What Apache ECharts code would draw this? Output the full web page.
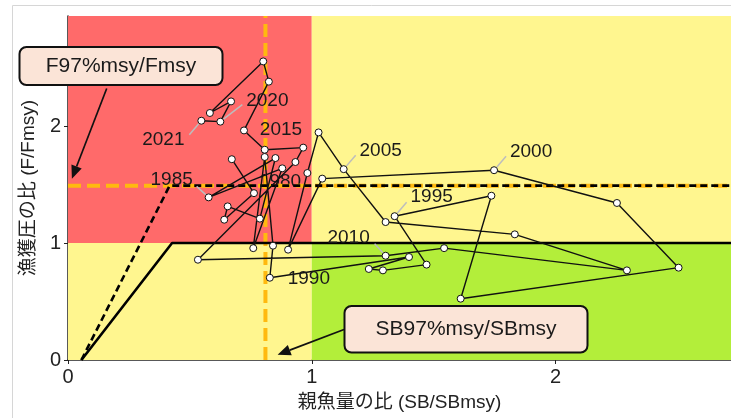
<!DOCTYPE html>
<html>
<head>
<meta charset="utf-8">
<script src="https://cdn.jsdelivr.net/npm/echarts@6.0.0/dist/echarts.min.js"></script>
<style>
  html, body { margin: 0; padding: 0; background: #fff; }
  #kobe { width: 731px; height: 418px; }
</style>
</head>
<body>
<div id="kobe"></div>
<script>
// 年
const years = [1979, 1980, 1981, 1982, 1983, 1984, 1985, 1986, 1987, 1988, 1989,
  1990, 1991, 1992, 1993, 1994, 1995, 1996, 1997, 1998, 1999,
  2000, 2001, 2002, 2003, 2004, 2005, 2006, 2007, 2008, 2009,
  2010, 2011, 2012, 2013, 2014, 2015, 2016, 2017, 2018, 2019, 2020, 2021];
// 親魚量の比 (SB/SBmsy)
const sbRatio = [0.672, 0.763, 0.641, 0.655, 0.787, 0.851, 0.577, 0.879, 0.760, 0.807, 0.841,
  0.828, 1.399, 1.234, 1.292, 1.471, 1.340, 1.737, 1.611, 2.505, 2.252,
  1.748, 1.043, 0.903, 0.982, 1.028, 1.131, 1.303, 1.833, 2.293, 1.543,
  1.303, 0.533, 0.933, 0.965, 0.807, 0.722, 0.824, 0.801, 0.582, 0.669, 0.625, 0.547];
// 漁獲圧の比 (F/Fmsy)
const fRatio = [1.716, 1.426, 1.199, 1.313, 1.208, 1.726, 1.390, 1.638, 0.956, 1.735, 0.977,
  0.703, 0.880, 0.778, 0.766, 0.815, 1.229, 1.404, 0.524, 0.789, 1.342,
  1.622, 1.550, 0.943, 1.598, 1.945, 1.631, 1.179, 1.074, 0.766, 0.956,
  0.891, 0.857, 1.692, 1.815, 1.797, 1.962, 2.379, 2.552, 2.111, 2.210, 2.037, 2.045];
// ラベルを付ける年
const labelYears = [1985, 1990, 1995, 2000, 2005, 2010, 2015, 2020, 2021];
const hiddenLabelYears = [1980];

// 管理基準値の比
const sbLimit = 0.81;   // SB97%msy/SBmsy
const fLimit = 1.49;    // F97%msy/Fmsy
const xMax = 2.72;
const yMax = 2.94;
const hcrSolid = [[0.055, 0], [0.427, 1], [xMax, 1]];
const hcrDashed = [[0.055, 0], [0.417, fLimit], [xMax, fLimit]];
const xTicks = [0, 1, 2];
const yTicks = [0, 1, 2];
// 注記の矢印の先
const fArrowTip = [0.016, 1.55];
const sbArrowTip = [0.86, 0.045];

const FONT = '"Liberation Sans", "Noto Sans CJK JP", sans-serif';

// ラベルの位置 (px)
const labelPos = {
  1980: { dx: 26, dy: -11 },
  1985: { dx: -37, dy: -18, lead: [-12, -11] },
  1990: { dx: 39, dy: 1 },
  1995: { dx: 37, dy: -19, lead: [12, -14] },
  2000: { dx: 37, dy: -18, lead: [12, -14] },
  2005: { dx: 37, dy: -18, lead: [12, -14] },
  2010: { dx: -37, dy: -18, lead: [-11, -12] },
  2015: { dx: 37, dy: -1 },
  2020: { dx: 47, dy: -21, lead: [22, -17] },
  2021: { dx: -38, dy: 19, lead: [-12, 14] }
};

const chart = echarts.init(document.getElementById('kobe'));

function labelData(list) {
  return list.map(function (y) {
    const i = years.indexOf(y);
    return [sbRatio[i], fRatio[i], y];
  });
}

function renderLabel(params, api) {
  const yr = api.value(2);
  const p = api.coord([api.value(0), api.value(1)]);
  const cfg = labelPos[yr];
  const children = [];
  if (cfg.lead) {
    const len = Math.hypot(cfg.lead[0], cfg.lead[1]);
    children.push({
      type: 'line',
      shape: {
        x1: p[0] + cfg.lead[0] / len * 4, y1: p[1] + cfg.lead[1] / len * 4,
        x2: p[0] + cfg.lead[0], y2: p[1] + cfg.lead[1]
      },
      style: { stroke: '#bdbdbd', lineWidth: 1.5 }
    });
  }
  children.push({
    type: 'text',
    x: p[0] + cfg.dx,
    y: p[1] + cfg.dy,
    style: {
      text: String(yr), fill: '#1a1a1a', fontSize: 19, fontFamily: FONT,
      align: 'center', verticalAlign: 'middle'
    }
  });
  return { type: 'group', children: children };
}

const option = {
  animation: false,
  grid: { left: 68, right: 0, top: 16, bottom: 58, containLabel: false, outerBoundsMode: 'none' },
  xAxis: {
    type: 'value', min: 0, max: xMax, interval: 1,
    name: '親魚量の比 (SB/SBmsy)', nameLocation: 'middle', nameGap: 33,
    nameTextStyle: { fontSize: 19, color: '#222', fontFamily: FONT },
    axisLine: { show: true, onZero: false, lineStyle: { color: '#222', width: 1.5 } },
    axisTick: { show: true, length: 4, customValues: xTicks, lineStyle: { color: '#222' } },
    axisLabel: { customValues: xTicks, fontSize: 20, color: '#222', fontFamily: FONT, margin: 7 },
    splitLine: { show: false }
  },
  yAxis: {
    type: 'value', min: 0, max: yMax, interval: 1,
    name: '漁獲圧の比 (F/Fmsy)', nameLocation: 'middle', nameGap: 30,
    nameTextStyle: { fontSize: 19, color: '#222', fontFamily: FONT },
    axisLine: { show: true, onZero: false, lineStyle: { color: '#222', width: 1.5 } },
    axisTick: { show: true, length: 4, customValues: yTicks, lineStyle: { color: '#222' } },
    axisLabel: { customValues: yTicks, fontSize: 20, color: '#222', fontFamily: FONT, margin: 7 },
    splitLine: { show: false }
  },
  series: [
    {
      // 背景の色分け
      type: 'line', data: [], z: 1, silent: true,
      markArea: {
        silent: true,
        data: [
          [{ xAxis: 0, yAxis: 1, itemStyle: { color: '#FF6A6A' } }, { xAxis: 1, yAxis: yMax }],
          [{ xAxis: 1, yAxis: 1, itemStyle: { color: '#FFF68F' } }, { xAxis: xMax, yAxis: yMax }],
          [{ xAxis: 0, yAxis: 0, itemStyle: { color: '#FFF68F' } }, { xAxis: 1, yAxis: 1 }],
          [{ xAxis: 1, yAxis: 0, itemStyle: { color: '#B3EE3A' } }, { xAxis: xMax, yAxis: 1 }]
        ]
      }
    },
    {
      type: 'custom', z: 2, silent: true,
      data: labelData(hiddenLabelYears), renderItem: renderLabel
    },
    {
      type: 'line', z: 3, silent: true, symbol: 'none',
      data: [[sbLimit, 0], [sbLimit, yMax]],
      lineStyle: { color: '#FFB90F', width: 4, type: [13, 6] }
    },
    {
      type: 'line', z: 3, silent: true, symbol: 'none',
      data: [[0, fLimit], [xMax, fLimit]],
      lineStyle: { color: '#FFB90F', width: 4, type: [13, 6] }
    },
    {
      type: 'line', z: 4, silent: true, symbol: 'none',
      data: hcrSolid,
      lineStyle: { color: '#000', width: 2.6 }
    },
    {
      type: 'line', z: 4, silent: true, symbol: 'none',
      data: hcrDashed,
      lineStyle: { color: '#000', width: 2.6, type: [7, 4] }
    },
    {
      type: 'line', z: 5, silent: true,
      data: years.map(function (y, i) { return [sbRatio[i], fRatio[i]]; }),
      symbol: 'circle', symbolSize: 7, showAllSymbol: true,
      lineStyle: { color: '#111', width: 1.4 },
      itemStyle: { color: '#fff', borderColor: '#111', borderWidth: 1 }
    },
    {
      type: 'custom', z: 6, silent: true,
      data: labelData(labelYears), renderItem: renderLabel
    }
  ]
};

chart.setOption(option);

function arrow(from, to) {
  const dx = to[0] - from[0], dy = to[1] - from[1];
  const len = Math.hypot(dx, dy);
  const ux = dx / len, uy = dy / len;
  const head = 13, half = 5.5;
  const bx = to[0] - ux * head, by = to[1] - uy * head;
  return [
    { type: 'line', z: 100, shape: { x1: from[0], y1: from[1], x2: bx, y2: by },
      style: { stroke: '#111', lineWidth: 1.7 } },
    { type: 'polygon', z: 100,
      shape: { points: [to, [bx - uy * half, by + ux * half], [bx + uy * half, by - ux * half]] },
      style: { fill: '#111' } }
  ];
}

function noteBox(x, y, w, h, text) {
  return [
    { type: 'rect', z: 100, shape: { x: x, y: y, width: w, height: h, r: 7 },
      style: { fill: '#FBE4D7', stroke: '#111', lineWidth: 2 } },
    { type: 'text', z: 101, x: x + w / 2, y: y + h / 2,
      style: { text: text, fill: '#1a1a1a', fontSize: 21, fontFamily: FONT,
        align: 'center', verticalAlign: 'middle' } }
  ];
}

const tip1 = chart.convertToPixel({ gridIndex: 0 }, fArrowTip);
const tip2 = chart.convertToPixel({ gridIndex: 0 }, sbArrowTip);

chart.setOption({
  graphic: [
    { type: 'line', z: 100, shape: { x1: 12.5, y1: 5.5, x2: 731, y2: 5.5 }, style: { stroke: '#d6d6d6', lineWidth: 1 } },
    { type: 'line', z: 100, shape: { x1: 12.5, y1: 5.5, x2: 12.5, y2: 418 }, style: { stroke: '#d6d6d6', lineWidth: 1 } }
  ].concat(
    noteBox(19.5, 47, 203, 38, 'F97%msy/Fmsy'),
    noteBox(344.5, 306, 243, 46.5, 'SB97%msy/SBmsy'),
    arrow([106.7, 88.5], tip1),
    arrow([344, 329.5], tip2)
  )
});
</script>
</body>
</html>
